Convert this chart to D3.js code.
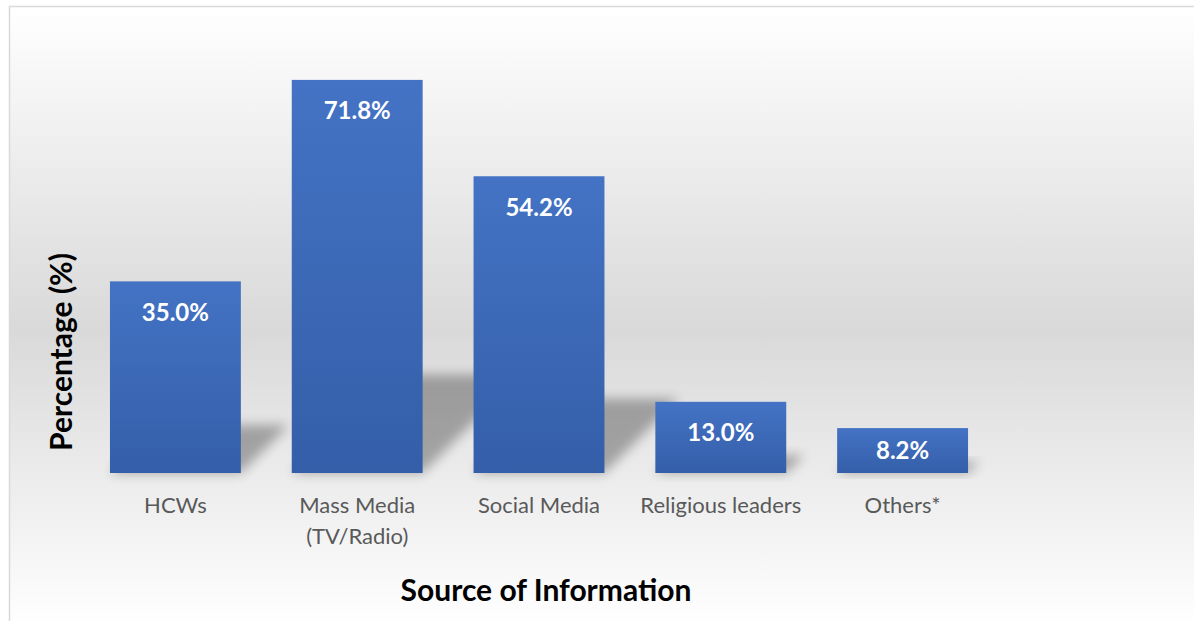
<!DOCTYPE html>
<html>
<head>
  <meta charset="utf-8">
  <script src="https://d3js.org/d3.v7.min.js"></script>
  <style>
    body { margin: 0; background: #fff; }
    svg { display: block; }
  </style>
</head>
<body>
  <div id="chart"></div>
  <script>
    // data
    var categories = ["HCWs", "Mass Media\n(TV/Radio)", "Social Media", "Religious leaders", "Others*"];
    var percents = [35.0, 71.8, 54.2, 13.0, 8.2];
    var yTitle = "Percentage (%)";
    var xTitle = "Source of Information";

    var W = 1194, H = 621;
    var baseY = 473;

    var svg = d3.select("#chart").append("svg")
      .attr("width", W)
      .attr("height", H);

    var defs = svg.append("defs");

    // chart area background, grey band in the middle
    var bg = defs.append("linearGradient").attr("id", "bg")
      .attr("x1", 0).attr("y1", 0).attr("x2", 0).attr("y2", 1);
    bg.append("stop").attr("offset", "0%").attr("stop-color", "#ffffff");
    bg.append("stop").attr("offset", "52%").attr("stop-color", "#d9d9d9");
    bg.append("stop").attr("offset", "100%").attr("stop-color", "#ffffff");

    var barGrad = defs.append("linearGradient").attr("id", "barGrad")
      .attr("x1", 0).attr("y1", 0).attr("x2", 0).attr("y2", 1);
    barGrad.append("stop").attr("offset", "0%").attr("stop-color", "#4473c5");
    barGrad.append("stop").attr("offset", "100%").attr("stop-color", "#345ea8");

    var blur = defs.append("filter").attr("id", "blur")
      .attr("x", "-50%").attr("y", "-50%").attr("width", "200%").attr("height", "200%");
    blur.append("feGaussianBlur").attr("stdDeviation", 6);

    svg.append("rect")
      .attr("x", 9.5).attr("y", 6.5)
      .attr("width", W).attr("height", H)
      .attr("fill", "url(#bg)")
      .attr("stroke", "#d9d9d9")
      .attr("stroke-width", 1.5);

    var x = d3.scaleBand()
      .domain(categories)
      .range([84.5, 993.5])
      .paddingInner(0.28)
      .paddingOuter(0.14);

    var y = d3.scaleLinear()
      .domain([0, 80])
      .range([baseY, 35]);

    // shadows behind the bars
    svg.append("g").selectAll("path")
      .data(percents)
      .join("path")
        .attr("d", function(d, i) {
          var x0 = x(categories[i]), x1 = x0 + x.bandwidth();
          var sh = (baseY - y(d)) * 0.25;
          var s = sh;
          return "M" + x0 + "," + baseY + "L" + x1 + "," + baseY +
            "L" + (x1 + s) + "," + (baseY - sh) + "L" + (x0 + s) + "," + (baseY - sh) + "Z";
        })
        .attr("fill", "#000")
        .attr("opacity", 0.3)
        .attr("filter", "url(#blur)");

    svg.append("g").selectAll("rect")
      .data(percents)
      .join("rect")
        .attr("x", function(d, i) { return x(categories[i]); })
        .attr("y", function(d) { return y(d); })
        .attr("width", x.bandwidth())
        .attr("height", function(d) { return baseY - y(d); })
        .attr("fill", "url(#barGrad)");

    svg.append("g").selectAll("text")
      .data(percents)
      .join("text")
        .attr("x", function(d, i) { return x(categories[i]) + x.bandwidth() / 2; })
        .attr("y", function(d) { return y(d) + Math.min(31, (baseY - y(d)) / 2); })
        .attr("dy", "0.35em")
        .attr("text-anchor", "middle")
        .attr("fill", "#fff")
        .style("font-family", "Lato, sans-serif")
        .style("font-weight", "bold")
        .style("font-size", "24px")
        .text(function(d) { return d.toFixed(1) + "%"; });

    // category axis, no line, no ticks
    var xAxis = svg.append("g")
      .attr("transform", "translate(0," + baseY + ")")
      .call(d3.axisBottom(x).tickSize(0).tickPadding(0).tickFormat(""));
    xAxis.select(".domain").remove();

    xAxis.selectAll(".tick").each(function(d) {
      var t = d3.select(this).append("text")
        .attr("fill", "#595959")
        .attr("text-anchor", "middle")
        .style("font-family", "Lato, sans-serif")
        .style("font-size", "22px");
      d.split("\n").forEach(function(line, k) {
        t.append("tspan").attr("x", 0).attr("y", 40 + k * 31).text(line);
      });
    });

    svg.append("text")
      .attr("transform", "translate(72,352) rotate(-90)")
      .attr("text-anchor", "middle")
      .style("font-family", "Lato, sans-serif")
      .style("font-weight", "bold")
      .style("font-size", "30px")
      .attr("fill", "#000")
      .text(yTitle);

    svg.append("text")
      .attr("x", 546)
      .attr("y", 601)
      .attr("text-anchor", "middle")
      .style("font-family", "Lato, sans-serif")
      .style("font-weight", "bold")
      .style("font-size", "30px")
      .attr("fill", "#000")
      .text(xTitle);
  </script>
</body>
</html>
